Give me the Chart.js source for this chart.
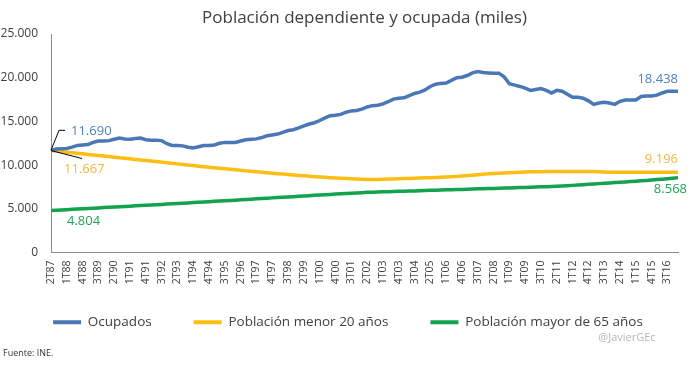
<!DOCTYPE html>
<html>
<head>
<meta charset="utf-8">
<script src="https://cdn.jsdelivr.net/npm/chart.js@4"></script>
<style>
  html, body { margin: 0; padding: 0; background: #fff; }
</style>
</head>
<body>
<canvas id="chartPoblacion" width="700" height="365"></canvas>
<script>
const titulo = 'Población dependiente y ocupada (miles)';

const trimestres = [
  '2T87','3T87','4T87',
  '1T88','2T88','3T88','4T88',
  '1T89','2T89','3T89','4T89',
  '1T90','2T90','3T90','4T90',
  '1T91','2T91','3T91','4T91',
  '1T92','2T92','3T92','4T92',
  '1T93','2T93','3T93','4T93',
  '1T94','2T94','3T94','4T94',
  '1T95','2T95','3T95','4T95',
  '1T96','2T96','3T96','4T96',
  '1T97','2T97','3T97','4T97',
  '1T98','2T98','3T98','4T98',
  '1T99','2T99','3T99','4T99',
  '1T00','2T00','3T00','4T00',
  '1T01','2T01','3T01','4T01',
  '1T02','2T02','3T02','4T02',
  '1T03','2T03','3T03','4T03',
  '1T04','2T04','3T04','4T04',
  '1T05','2T05','3T05','4T05',
  '1T06','2T06','3T06','4T06',
  '1T07','2T07','3T07','4T07',
  '1T08','2T08','3T08','4T08',
  '1T09','2T09','3T09','4T09',
  '1T10','2T10','3T10','4T10',
  '1T11','2T11','3T11','4T11',
  '1T12','2T12','3T12','4T12',
  '1T13','2T13','3T13','4T13',
  '1T14','2T14','3T14','4T14',
  '1T15','2T15','3T15','4T15',
  '1T16','2T16','3T16','4T16',
  '1T17'
];

const ocupados = [
  11690, 11850, 11880,
  11900, 12050, 12250, 12300,
  12350, 12600, 12750, 12750,
  12800, 12950, 13100, 12980,
  12950, 13050, 13100, 12900,
  12850, 12850, 12800, 12450,
  12250, 12250, 12200, 12050,
  11950, 12100, 12250, 12250,
  12300, 12500, 12600, 12600,
  12600, 12750, 12900, 12950,
  13000, 13150, 13350, 13450,
  13550, 13750, 13950, 14050,
  14250, 14500, 14700, 14850,
  15100, 15400, 15650, 15700,
  15800, 16050, 16200, 16250,
  16400, 16650, 16800, 16850,
  17000, 17250, 17550, 17650,
  17700, 17950, 18200, 18350,
  18600, 19000, 19250, 19350,
  19400, 19700, 20000, 20050,
  20250, 20550, 20700, 20600,
  20550, 20500, 20500, 20100,
  19300, 19150, 19000, 18800,
  18550, 18650, 18750, 18550,
  18250, 18550, 18450, 18100,
  17750, 17750, 17650, 17350,
  16950, 17100, 17200, 17100,
  16950, 17300, 17450, 17450,
  17450, 17850, 17900, 17900,
  18000, 18250, 18450, 18450,
  18438
];

const menores20 = [
  11667, 11610, 11550,
  11480, 11420, 11350, 11290,
  11220, 11160, 11100, 11040,
  10980, 10910, 10850, 10780,
  10720, 10650, 10590, 10530,
  10470, 10400, 10340, 10270,
  10210, 10140, 10080, 10010,
  9950, 9880, 9820, 9760,
  9700, 9640, 9580, 9520,
  9460, 9400, 9340, 9290,
  9230, 9180, 9120, 9070,
  9020, 8970, 8920, 8870,
  8820, 8770, 8720, 8680,
  8640, 8600, 8560, 8520,
  8490, 8460, 8430, 8400,
  8380, 8360, 8340, 8350,
  8370, 8400, 8420, 8440,
  8460, 8480, 8500, 8520,
  8540, 8560, 8590, 8620,
  8650, 8680, 8710, 8750,
  8800, 8850, 8900, 8950,
  9000, 9040, 9070, 9100,
  9130, 9160, 9190, 9210,
  9230, 9240, 9250, 9260,
  9270, 9270, 9280, 9280,
  9280, 9280, 9280, 9280,
  9270, 9250, 9220, 9190,
  9180, 9170, 9170, 9170,
  9170, 9170, 9170, 9180,
  9180, 9180, 9190, 9190,
  9196
];

const mayores65 = [
  4804, 4840, 4870,
  4900, 4940, 4970, 5000,
  5040, 5070, 5100, 5140,
  5170, 5200, 5240, 5270,
  5300, 5340, 5370, 5400,
  5440, 5470, 5500, 5540,
  5570, 5610, 5640, 5670,
  5710, 5740, 5780, 5810,
  5850, 5880, 5920, 5950,
  5990, 6030, 6060, 6100,
  6140, 6170, 6210, 6250,
  6280, 6320, 6360, 6390,
  6430, 6470, 6500, 6540,
  6580, 6610, 6650, 6690,
  6720, 6760, 6790, 6820,
  6850, 6880, 6900, 6920,
  6940, 6960, 6980, 7000,
  7020, 7030, 7050, 7070,
  7090, 7110, 7130, 7150,
  7170, 7190, 7210, 7220,
  7240, 7260, 7280, 7300,
  7310, 7330, 7350, 7370,
  7390, 7410, 7430, 7450,
  7470, 7490, 7510, 7530,
  7550, 7570, 7600, 7640,
  7680, 7720, 7760, 7800,
  7840, 7880, 7920, 7960,
  8000, 8040, 8080, 8120,
  8160, 8200, 8240, 8290,
  8340, 8390, 8440, 8500,
  8568
];

const nombresSeries = ['Ocupados', 'Población menor 20 años', 'Población mayor de 65 años'];
const coloresLinea = ['#4a78b7', '#fdbe14', '#13a24d'];
const coloresTexto = ['#4f80bd', '#f4b83a', '#22a457'];

const gris = '#404040';
const fuente = "'Open Sans', sans-serif";

function formatoMiles(v) {
    return String(Math.round(v)).replace(/\B(?=(\d{3})+(?!\d))/g, '.');
}

// titulo, etiquetas de valores y pie
const anotaciones = {
    id: 'anotaciones',
    afterLayout(chart) {
        // colocar la leyenda donde esta en el original
        const lg = chart.legend;
        if (lg) {
            lg.top -= 19; lg.bottom -= 19;
            lg.left += 9; lg.right += 9;
        }
    },
    afterDatasetsDraw(chart) {
        const { ctx, chartArea } = chart;
        const ultimo = trimestres.length - 1;
        const punto = (d, i) => chart.getDatasetMeta(d).data[i];

        ctx.save();
        ctx.fillStyle = gris;
        ctx.font = '17px ' + fuente;
        ctx.textAlign = 'center';
        ctx.textBaseline = 'middle';
        ctx.fillText(titulo, (chartArea.left + chartArea.right) / 2, 18);

        // lineas guia del inicio
        const p0 = punto(0, 0);
        const p1 = punto(1, 0);
        ctx.strokeStyle = '#000';
        ctx.lineWidth = 1;
        ctx.beginPath();
        ctx.moveTo(p0.x, p0.y);
        ctx.lineTo(p0.x + 8, p0.y - 20);
        ctx.lineTo(p0.x + 14, p0.y - 20);
        ctx.moveTo(p1.x, p1.y);
        ctx.lineTo(p1.x + 31, p1.y + 8);
        ctx.stroke();

        ctx.font = '13px ' + fuente;
        ctx.textBaseline = 'middle';
        ctx.textAlign = 'left';
        ctx.fillStyle = coloresTexto[0];
        ctx.fillText(formatoMiles(ocupados[0]), p0.x + 20, p0.y - 19);
        ctx.fillStyle = coloresTexto[1];
        ctx.fillText(formatoMiles(menores20[0]), p1.x + 13, p1.y + 19);
        const p2 = punto(2, 0);
        ctx.fillStyle = coloresTexto[2];
        ctx.fillText(formatoMiles(mayores65[0]), p2.x + 16, p2.y + 11);

        ctx.textAlign = 'right';
        const e0 = punto(0, ultimo);
        ctx.fillStyle = coloresTexto[0];
        ctx.fillText(formatoMiles(ocupados[ultimo]), e0.x, e0.y - 12);
        const e1 = punto(1, ultimo);
        ctx.fillStyle = coloresTexto[1];
        ctx.fillText(formatoMiles(menores20[ultimo]), e1.x, e1.y - 13);
        const e2 = punto(2, ultimo);
        ctx.fillStyle = coloresTexto[2];
        ctx.fillText(formatoMiles(mayores65[ultimo]), e2.x + 9, e2.y + 12);

        // pie
        ctx.textAlign = 'left';
        ctx.fillStyle = '#333';
        ctx.font = '9px ' + fuente;
        ctx.fillText('Fuente: INE.', 3, 353);
        ctx.textAlign = 'center';
        ctx.fillStyle = '#b5b5b5';
        ctx.font = '11px ' + fuente;
        ctx.fillText('@JavierGEc', 627, 338);
        ctx.restore();
    }
};

const canvas = document.getElementById('chartPoblacion');
const ctx = canvas.getContext('2d');

const valores = [ocupados, menores20, mayores65];

new Chart(ctx, {
    type: 'line',
    data: {
        labels: trimestres,
        datasets: valores.map((serie, i) => ({
            label: nombresSeries[i],
            data: serie,
            borderColor: coloresLinea[i],
            backgroundColor: coloresLinea[i],
            borderWidth: 3.5,
            pointRadius: 0,
            tension: 0
        }))
    },
    options: {
        responsive: false,
        animation: false,
        layout: { padding: { top: 34, right: 22, bottom: 7, left: 0 } },
        plugins: {
            title: { display: false },
            tooltip: { enabled: false },
            legend: {
                position: 'bottom',
                labels: {
                    boxWidth: 28,
                    boxHeight: 4,
                    padding: 42,
                    color: gris,
                    font: { family: fuente, size: 13.5 },
                    generateLabels(chart) {
                        return Chart.defaults.plugins.legend.labels.generateLabels(chart)
                            .map(l => ({ ...l, lineWidth: 0, fillStyle: l.strokeStyle }));
                    }
                }
            }
        },
        scales: {
            x: {
                grid: { display: false, drawTicks: false },
                border: { display: true, color: '#8c8c8c', width: 1 },
                ticks: {
                    autoSkip: false,
                    minRotation: 90,
                    maxRotation: 90,
                    padding: 8,
                    color: gris,
                    font: { family: fuente, size: 10.5 },
                    callback: (v, i) => (i % 3 === 0 ? trimestres[i] : '')
                },
                afterFit(scale) { scale.height = 40; }
            },
            y: {
                min: 0,
                max: 25000,
                grid: { display: false, drawTicks: false },
                border: { display: true, color: '#8c8c8c', width: 1 },
                ticks: {
                    stepSize: 5000,
                    padding: 13,
                    color: gris,
                    font: { family: fuente, size: 12 },
                    callback: v => formatoMiles(v)
                },
                afterFit(scale) { scale.width = 51; }
            }
        }
    },
    plugins: [anotaciones]
});
</script>
</body>
</html>
